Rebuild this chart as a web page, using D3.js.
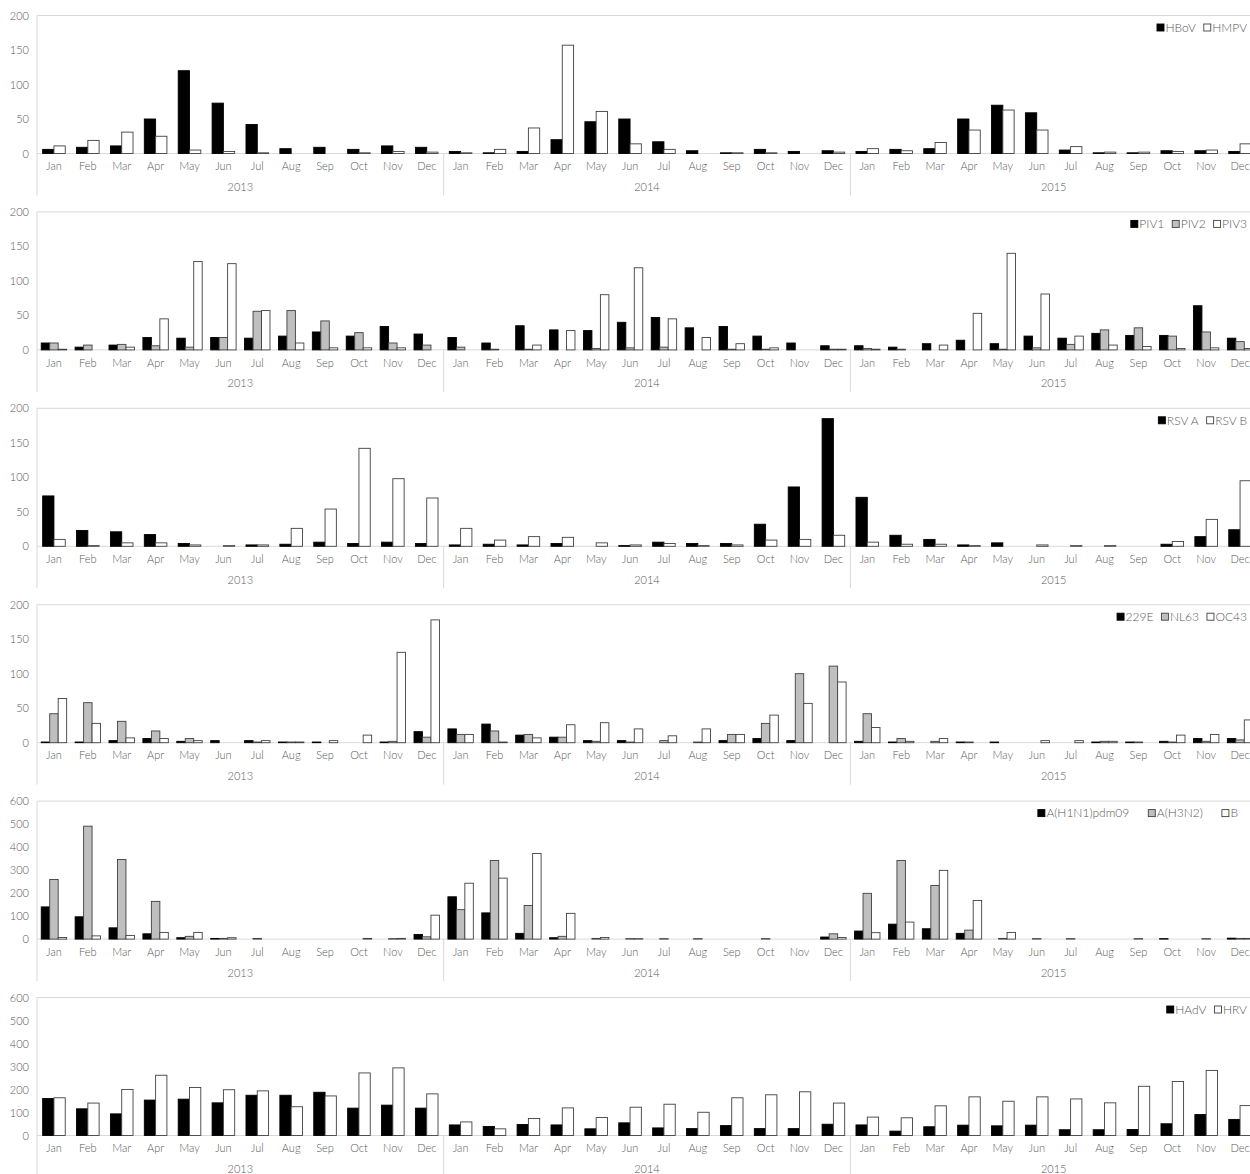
<!DOCTYPE html>
<html>
<head>
<meta charset="utf-8">
<script src="https://cdn.jsdelivr.net/npm/d3@7"></script>
<style>
  body { margin: 0; background: #fff; }
  text { font-family: Lato, "Liberation Sans Narrow", sans-serif; font-weight: 300; fill: #595959; }
</style>
</head>
<body>
<div id="chart"></div>
<script>
const months = ["Jan", "Feb", "Mar", "Apr", "May", "Jun", "Jul", "Aug", "Sep", "Oct", "Nov", "Dec"];
const years = ["2013", "2014", "2015"];

// monthly counts, Jan 2013 .. Dec 2015
const hbov = [6, 9, 11, 50, 120, 73, 42, 7, 9, 6, 11, 9, 3, 1, 3, 20, 46, 50, 17, 4, 1, 6, 3, 4, 3, 6, 7, 50, 70, 59, 5, 1, 1, 4, 4, 3];
const hmpv = [11, 19, 31, 25, 5, 3, 1, 0, 0, 1, 3, 2, 1, 6, 37, 157, 61, 14, 6, 0, 1, 1, 0, 2, 7, 4, 16, 34, 63, 34, 10, 2, 2, 3, 5, 14];

const piv1 = [10, 4, 7, 18, 17, 18, 17, 20, 26, 20, 34, 23, 18, 10, 35, 29, 28, 40, 47, 32, 34, 20, 10, 6, 6, 4, 9, 14, 9, 20, 17, 24, 21, 21, 64, 17];
const piv2 = [10, 7, 8, 6, 4, 18, 56, 57, 42, 25, 10, 7, 4, 1, 1, 0, 2, 3, 4, 0, 1, 1, 0, 1, 2, 1, 0, 0, 1, 3, 8, 29, 32, 20, 26, 12];
const piv3 = [1, 0, 4, 45, 128, 125, 57, 10, 3, 3, 3, 0, 0, 0, 7, 28, 80, 119, 45, 18, 9, 3, 0, 1, 1, 0, 7, 53, 140, 81, 20, 7, 5, 2, 3, 2];

const rsvA = [73, 23, 21, 17, 4, 0, 2, 3, 6, 4, 6, 4, 2, 3, 2, 4, 0, 1, 6, 4, 4, 32, 86, 185, 71, 16, 10, 2, 5, 0, 0, 0, 0, 3, 14, 24];
const rsvB = [10, 1, 5, 5, 2, 1, 2, 26, 54, 142, 98, 70, 26, 9, 14, 13, 5, 2, 4, 1, 2, 9, 10, 16, 6, 3, 3, 1, 0, 2, 1, 1, 0, 7, 39, 95];

const cov229e = [1, 1, 3, 6, 2, 3, 3, 1, 1, 0, 1, 16, 20, 27, 11, 8, 3, 3, 0, 0, 3, 6, 3, 0, 2, 1, 0, 1, 1, 0, 0, 1, 1, 2, 6, 6];
const covNl63 = [42, 58, 31, 17, 6, 0, 1, 1, 0, 0, 2, 8, 12, 17, 12, 8, 2, 1, 3, 1, 12, 28, 100, 111, 42, 6, 2, 1, 0, 0, 0, 2, 1, 1, 2, 4];
const covOc43 = [64, 28, 7, 6, 3, 0, 3, 1, 3, 11, 131, 178, 12, 1, 7, 26, 29, 20, 10, 20, 12, 40, 57, 88, 22, 2, 6, 0, 0, 3, 3, 2, 0, 11, 12, 33];

const fluH1n1 = [140, 97, 49, 23, 6, 3, 0, 0, 0, 0, 0, 20, 184, 114, 25, 6, 0, 0, 0, 0, 0, 0, 0, 9, 35, 65, 45, 25, 0, 0, 0, 0, 0, 2, 0, 4];
const fluH3n2 = [259, 491, 346, 164, 12, 3, 3, 0, 0, 0, 2, 10, 128, 342, 146, 12, 3, 2, 2, 2, 0, 2, 0, 23, 199, 342, 233, 39, 3, 2, 2, 0, 2, 0, 2, 3];
const fluB = [7, 14, 16, 29, 29, 6, 0, 0, 0, 3, 3, 104, 243, 265, 372, 112, 7, 2, 0, 0, 0, 0, 0, 7, 28, 74, 299, 168, 29, 0, 0, 0, 0, 0, 0, 3];

const hadv = [161, 116, 94, 154, 158, 142, 175, 175, 188, 119, 132, 119, 46, 39, 48, 46, 29, 55, 33, 30, 43, 30, 30, 49, 46, 19, 38, 45, 42, 45, 25, 25, 26, 51, 91, 70];
const hrv = [164, 141, 200, 262, 209, 199, 194, 125, 172, 272, 294, 181, 59, 29, 74, 120, 78, 123, 136, 101, 164, 177, 190, 141, 80, 77, 129, 168, 149, 168, 159, 142, 214, 235, 283, 130];

const panels = [
  { max: 200, step: 50, names: ["HBoV", "HMPV"], series: [hbov, hmpv] },
  { max: 200, step: 50, names: ["PIV1", "PIV2", "PIV3"], series: [piv1, piv2, piv3] },
  { max: 200, step: 50, names: ["RSV A", "RSV B"], series: [rsvA, rsvB] },
  { max: 200, step: 50, names: ["229E", "NL63", "OC43"], series: [cov229e, covNl63, covOc43] },
  { max: 600, step: 100, names: ["A(H1N1)pdm09", "A(H3N2)", "B"], series: [fluH1n1, fluH3n2, fluB], gap: 19, right: 1238 },
  { max: 600, step: 100, names: ["HAdV", "HRV"], series: [hadv, hrv] },
];

const width = 1250;
const height = 1174;
const plotLeft = 37;
const plotRight = 1257;
const panelStep = 196.4;
const plotTop = 15.5;
const plotH = 138;
const grid = "#d9d9d9";

const slots = years.flatMap((y) => months.map((m) => `${m} ${y}`));

const x = d3.scaleBand().domain(slots).range([plotLeft, plotRight]);
const bw = x.bandwidth();

const svg = d3
  .select("#chart")
  .append("svg")
  .attr("width", width)
  .attr("height", height)
  .attr("viewBox", `0 0 ${width} ${height}`);

panels.forEach((p, pi) => {
  const top = plotTop + pi * panelStep;
  const zero = top + plotH;
  const n = p.series.length;
  const fills = n === 2 ? ["#000", "#fff"] : ["#000", "#bfbfbf", "#fff"];

  const y = d3.scaleLinear().domain([0, p.max]).range([zero, top]);
  const inner = d3
    .scaleBand()
    .domain(d3.range(n))
    .range([bw / (2 * (n + 1)), bw - bw / (2 * (n + 1))]);

  const g = svg.append("g").attr("class", "panel");

  // frame: top border, zero line, left line, year separators
  g.append("line")
    .attr("x1", plotLeft).attr("x2", width)
    .attr("y1", y(p.max)).attr("y2", y(p.max))
    .attr("stroke", grid);
  g.append("line")
    .attr("x1", plotLeft).attr("x2", width)
    .attr("y1", zero).attr("y2", zero)
    .attr("stroke", grid);
  g.append("line")
    .attr("x1", plotLeft).attr("x2", plotLeft)
    .attr("y1", top).attr("y2", zero + 42)
    .attr("stroke", grid);
  g.selectAll("line.sep")
    .data(years.slice(1))
    .join("line")
    .attr("class", "sep")
    .attr("x1", (d) => x(`Jan ${d}`)).attr("x2", (d) => x(`Jan ${d}`))
    .attr("y1", zero).attr("y2", zero + 42)
    .attr("stroke", grid);

  // y axis
  const yAxis = g
    .append("g")
    .attr("transform", `translate(${plotLeft - 8},0)`)
    .call(
      d3.axisLeft(y)
        .tickValues(d3.range(0, p.max + 1, p.step))
        .tickSize(0)
        .tickPadding(0)
    )
    .attr("font-family", null)
    .attr("font-size", null);
  yAxis.select(".domain").remove();
  yAxis.selectAll("text").attr("font-size", 11);

  // x axis: months
  const xAxis = g
    .append("g")
    .attr("transform", `translate(0,${zero})`)
    .call(d3.axisBottom(x).tickSize(0).tickPadding(9).tickFormat((d) => d.split(" ")[0]))
    .attr("font-family", null)
    .attr("font-size", null);
  xAxis.select(".domain").remove();
  xAxis.selectAll("text").attr("font-size", 11);

  // year labels
  g.selectAll("text.year")
    .data(years)
    .join("text")
    .attr("class", "year")
    .attr("x", (d) => x(`Jan ${d}`) + 6 * bw)
    .attr("y", zero + 34)
    .attr("dy", "0.32em")
    .attr("text-anchor", "middle")
    .attr("font-size", 11)
    .text((d) => d);

  // bars
  p.series.forEach((vals, si) => {
    g.append("g")
      .selectAll("rect")
      .data(slots.map((s, i) => ({ slot: s, v: vals[i] })).filter((d) => d.v > 0))
      .join("rect")
      .attr("x", (d) => x(d.slot) + inner(si))
      .attr("width", inner.bandwidth())
      .attr("y", (d) => y(d.v))
      .attr("height", (d) => zero - y(d.v))
      .attr("fill", fills[si])
      .attr("stroke", si === 0 ? "#000" : "#404040")
      .attr("stroke-width", 0.9);
  });

  // legend, laid out from the right
  const lg = g.append("g");
  const gap = p.gap || 8;
  let lx = p.right || 1247;
  const ly = top + 12;
  for (let si = n - 1; si >= 0; si--) {
    const t = lg.append("text")
      .attr("x", lx)
      .attr("y", ly)
      .attr("dy", "0.35em")
      .attr("text-anchor", "end")
      .attr("font-size", 12)
      .text(p.names[si]);
    lx -= t.node().getComputedTextLength() + 1.5;
    lg.append("rect")
      .attr("x", lx - 7)
      .attr("y", ly - 3.5)
      .attr("width", 7)
      .attr("height", 7)
      .attr("fill", fills[si])
      .attr("stroke", si === 0 ? "#000" : "#404040")
      .attr("stroke-width", 0.9);
    lx -= 7 + gap;
  }
});
</script>
</body>
</html>
